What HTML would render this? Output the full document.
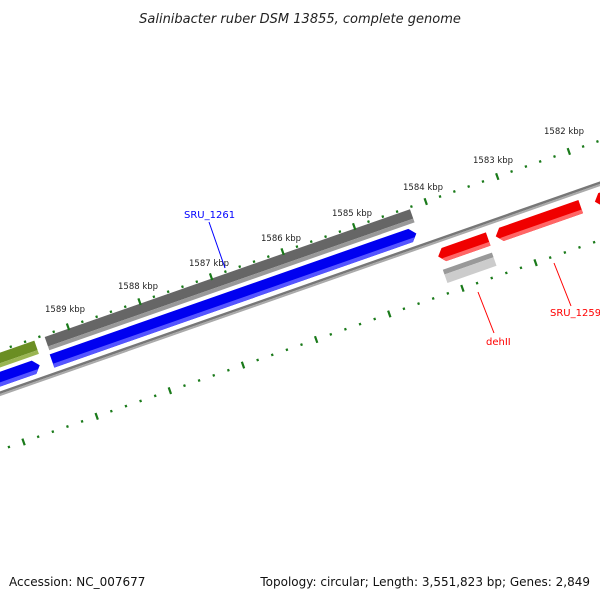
<!DOCTYPE html>
<html><head><style>
body{margin:0;background:#fff;}
svg{display:block;font-family:"DejaVu Sans","Liberation Sans",sans-serif;}
</style></head><body>
<svg id="s" width="600" height="600" viewBox="0 0 600 600" xmlns="http://www.w3.org/2000/svg">
<text x="300" y="23" text-anchor="middle" font-size="13" font-style="italic" fill="#222">Salinibacter ruber DSM 13855, complete genome</text>
<g id="rot" transform="translate(0,394) rotate(-19.29)">
  <rect x="-20" y="-2.5" width="700" height="2.5" fill="#777"/>
  <rect x="-20" y="0" width="700" height="2" fill="#aaa"/>
  <rect x="61" y="-39" width="387" height="10" fill="#666"/>
  <rect x="61" y="-29" width="387" height="4" fill="#999"/>
  <polygon points="60,-21 440,-21 446,-14 440,-7 60,-7" fill="#0000f0"/>
  <polygon points="60,-11 443,-11 440,-7 60,-7" fill="#5555ff"/>
  <rect x="-30" y="-39" width="80" height="10" fill="#6b8e23"/>
  <rect x="-30" y="-29" width="80" height="4" fill="#9ab552"/>
  <polygon points="-30,-21 41,-21 47,-14 41,-7 -30,-7" fill="#0000f0"/>
  <polygon points="-30,-11 44,-11 41,-7 -30,-7" fill="#5555ff"/>
  <polygon points="465,8 512,8 512,22 465,22 459,15" fill="#f00000"/>
  <polygon points="462,18 512,18 512,22 465,22" fill="#ff6666"/>
  <rect x="459" y="29" width="52" height="5" fill="#999"/>
  <rect x="459" y="34" width="52" height="9" fill="#ccc"/>
  <polygon points="526,8 610,8 610,22 526,22 520,15" fill="#f00000"/>
  <polygon points="523,18 610,18 610,22 526,22" fill="#ff6666"/>
  <polygon points="631,8 700,8 700,22 631,22 625,15" fill="#f00000"/>
  <polygon points="636,27 660,27 660,33 636,33" fill="#4477aa"/>
  <g id="ticks"></g>
</g>
<g font-size="8.5" fill="#222">
<text x="45" y="312">1589 kbp</text>
<text x="118" y="289">1588 kbp</text>
<text x="189" y="266">1587 kbp</text>
<text x="261" y="241">1586 kbp</text>
<text x="332" y="216">1585 kbp</text>
<text x="403" y="190">1584 kbp</text>
<text x="473" y="163">1583 kbp</text>
<text x="544" y="134">1582 kbp</text>
</g>
<text x="184" y="218" font-size="10" fill="#00f">SRU_1261</text>
<line x1="209" y1="222" x2="225" y2="268" stroke="#00f" stroke-width="1"/>
<text x="486" y="345" font-size="10" fill="#f00">dehII</text>
<line x1="478" y1="292" x2="494" y2="333" stroke="#f00" stroke-width="1"/>
<text x="550" y="316" font-size="10" fill="#f00">SRU_1259</text>
<line x1="554" y1="263" x2="571" y2="306" stroke="#f00" stroke-width="1"/>
<text x="9" y="586" font-size="12" fill="#111">Accession: NC_007677</text>
<text x="590" y="586" font-size="12" fill="#111" text-anchor="end">Topology: circular; Length: 3,551,823 bp; Genes: 2,849</text>
</svg>
<script>
var g=document.getElementById('ticks'),h='';
function row(v,start,step){
 for(var i=-10;i<60;i++){
  var u=start+i*step/5;
  if(u<-20||u>700)continue;
  if(i%5==0){h+='<rect x="'+(u-1)+'" y="'+(v-3.5)+'" width="2.2" height="7" fill="#1a7a1a"/>';}
  else{h+='<rect x="'+(u-1)+'" y="'+(v-1.2)+'" width="2.2" height="2.4" fill="#1a7a1a"/>';}
 }
}
row(-41,86.3,75.8);
row(53,6.3,77.5);
g.innerHTML=h;
</script>
</body></html>
